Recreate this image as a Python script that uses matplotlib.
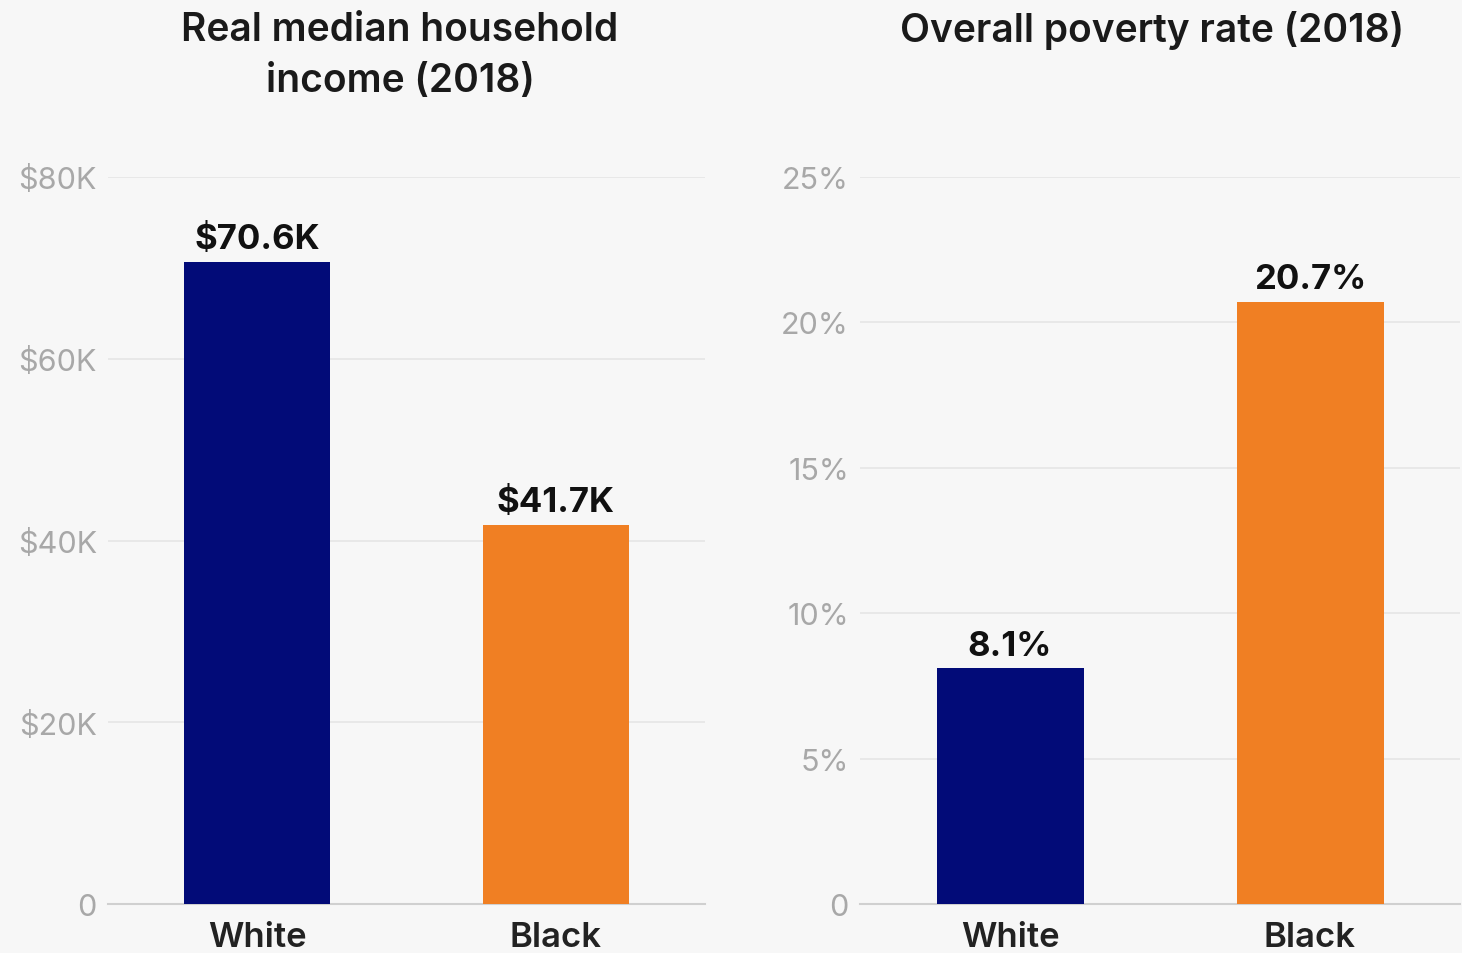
import matplotlib.pyplot as plt
from matplotlib.ticker import FuncFormatter

# income and poverty by race, 2018
groups = ["White", "Black"]
income_k = [70.6, 41.7]
poverty_pct = [8.1, 20.7]
income_ticks = [0, 20, 40, 60, 80]
poverty_ticks = [0, 5, 10, 15, 20, 25]

NAVY = "#020b78"
ORANGE = "#f07f23"
BG = "#f7f7f7"

plt.rcParams["font.family"] = ["Inter", "DejaVu Sans"]

fig = plt.figure(figsize=(14.62, 9.54), dpi=100, facecolor=BG)
W, H = 1462, 954


def panel(rect, values, ticks, tick_fmt, label_fmt):
    ax = fig.add_axes(rect, facecolor=BG)
    xs = list(range(len(values)))
    ax.bar(xs, values, width=0.49, color=[NAVY, ORANGE], zorder=3)
    ax.set_xlim(-0.5, 1.5)
    ax.set_ylim(0, ticks[-1])
    ax.set_yticks(ticks)
    ax.yaxis.set_major_formatter(FuncFormatter(tick_fmt))
    ax.set_xticks(xs)
    ax.set_xticklabels(groups, fontsize=25, fontweight="semibold", color="#222222")
    ax.tick_params(axis="y", length=0, pad=8, labelsize=22, labelcolor="#a8a8a8")
    ax.tick_params(axis="x", length=0, pad=12)
    ax.grid(axis="y", color="#e6e6e6", linewidth=1.2, zorder=0)
    for side in ["top", "right", "left"]:
        ax.spines[side].set_visible(False)
    ax.spines["bottom"].set_color("#d0d0d0")
    ax.spines["bottom"].set_linewidth(1.5)
    for x, v in zip(xs, values):
        ax.annotate(label_fmt(v), (x, v), xytext=(0, 5), textcoords="offset points",
                    ha="center", va="bottom", fontsize=25, fontweight="bold",
                    color="#111111", zorder=4)
    return ax


def k_fmt(v, pos):
    return "0" if v == 0 else f"${v:.0f}K"


def pct_fmt(v, pos):
    return "0" if v == 0 else f"{v:.0f}%"


bottom = (H - 905) / H
height = 727 / H
panel([108 / W, bottom, 597 / W, height], income_k, income_ticks, k_fmt,
      lambda v: f"${v:.1f}K")
panel([860 / W, bottom, 600 / W, height], poverty_pct, poverty_ticks, pct_fmt,
      lambda v: f"{v:.1f}%")

fig.text(400 / W, 1 - 56 / H, "Real median household\nincome (2018)", ha="center",
         va="center", fontsize=28, fontweight="semibold", color="#1a1a1a",
         linespacing=1.45)
fig.text(1152 / W, 1 - 31 / H, "Overall poverty rate (2018)", ha="center",
         va="center", fontsize=28, fontweight="semibold", color="#1a1a1a")

fig.savefig("out.png", dpi=100, facecolor=BG)
